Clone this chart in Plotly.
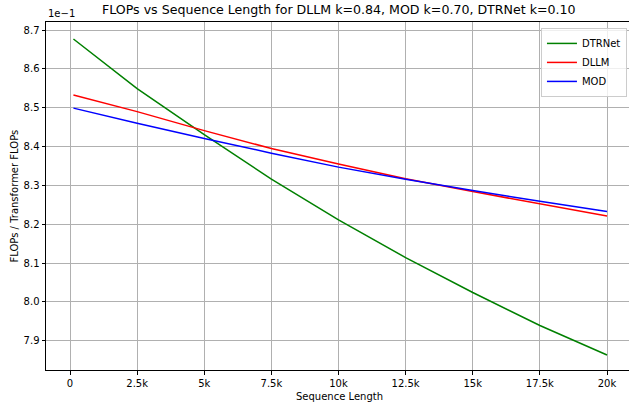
import plotly.graph_objects as go

seq_len = [128, 2500, 5000, 7500, 10000, 12500, 15000, 17500, 20000]
dtrnet = [0.8677, 0.8549, 0.8431, 0.8316, 0.8211, 0.8114, 0.8024, 0.7939, 0.7863]
dllm = [0.8533, 0.8490, 0.8441, 0.8395, 0.8355, 0.8317, 0.8284, 0.8252, 0.8221]
mod = [0.8499, 0.8460, 0.8421, 0.8383, 0.8347, 0.8316, 0.8287, 0.8259, 0.8233]

x_tickvals = [0, 2500, 5000, 7500, 10000, 12500, 15000, 17500, 20000]
x_ticktext = ["0", "2.5k", "5k", "7.5k", "10k", "12.5k", "15k", "17.5k", "20k"]
y_tickvals = [7.9, 8.0, 8.1, 8.2, 8.3, 8.4, 8.5, 8.6, 8.7]
y_ticktext = ["7.9", "8.0", "8.1", "8.2", "8.3", "8.4", "8.5", "8.6", "8.7"]

scale = 10  # displayed with 1e-1 offset

FONT = "DejaVu Sans"
fig = go.Figure()
for name, vals, col in [("DTRNet", dtrnet, "#008000"), ("DLLM", dllm, "#ff0000"), ("MOD", mod, "#0000ff")]:
    fig.add_trace(go.Scatter(x=seq_len, y=[v * scale for v in vals], mode="lines", name=name,
                             line=dict(color=col, width=1.5)))

fig.update_layout(
    width=629, height=404,
    margin=dict(l=46, r=0, t=22, b=34, autoexpand=False),
    paper_bgcolor="white", plot_bgcolor="white",
    font=dict(family=FONT, size=10, color="#000000"),
    showlegend=True,
    legend=dict(x=0.9965, y=0.983, xanchor="right", yanchor="top",
                bgcolor="rgba(255,255,255,0.8)", bordercolor="#cccccc", borderwidth=1,
                font=dict(family=FONT, size=10), itemwidth=30, tracegroupgap=0),
    annotations=[
        dict(text="FLOPs vs Sequence Length for DLLM k=0.84, MOD k=0.70, DTRNet k=0.10",
             xref="paper", yref="paper", x=0.503, y=1, yshift=3, xanchor="center", yanchor="bottom",
             showarrow=False, font=dict(family=FONT, size=12.6)),
        dict(text="1e\u22121", xref="paper", yref="paper", x=0, y=1, yshift=1, xanchor="left", yanchor="bottom",
             showarrow=False, font=dict(family=FONT, size=10)),
        dict(text="Sequence Length", xref="paper", yref="paper", x=0.503, y=0, yshift=-19,
             xanchor="center", yanchor="top", showarrow=False, font=dict(family=FONT, size=10)),
        dict(text="FLOPs / Transformer FLOPs", xref="paper", yref="paper", x=0, xshift=-40, y=0.5,
             xanchor="left", yanchor="middle", textangle=-90, showarrow=False,
             font=dict(family=FONT, size=10)),
    ],
)
fig.update_xaxes(range=[-894, 20819], tickvals=x_tickvals, ticktext=x_ticktext, automargin=False,
                 showgrid=True, gridcolor="#b0b0b0", gridwidth=1, zeroline=False,
                 showline=True, linecolor="#000000", linewidth=1, mirror=True,
                 ticks="outside", ticklen=3.5, tickcolor="#000000")
fig.update_yaxes(range=[7.8245, 8.7208], tickvals=y_tickvals, ticktext=y_ticktext, automargin=False,
                 showgrid=True, gridcolor="#b0b0b0", gridwidth=1, zeroline=False,
                 showline=True, linecolor="#000000", linewidth=1, mirror=False,
                 ticks="outside", ticklen=3.5, tickcolor="#000000")

fig.write_html("out.html", config={"displayModeBar": False, "staticPlot": True},
               post_script="document.body.style.margin='0';document.body.style.overflow='hidden';")
